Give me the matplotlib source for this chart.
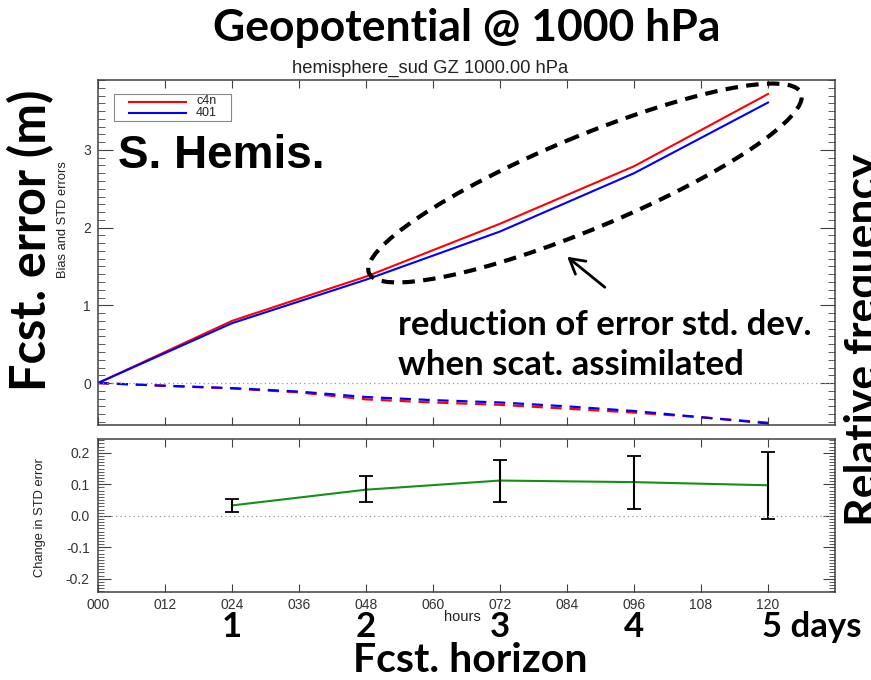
import matplotlib
matplotlib.use("Agg")
import matplotlib.pyplot as plt
from matplotlib.patches import Ellipse, FancyArrowPatch, Rectangle
from matplotlib.lines import Line2D
from matplotlib.transforms import Affine2D
from matplotlib.ticker import MultipleLocator, FixedLocator, FormatStrFormatter

# ---------------- data ----------------
hours_std = [0, 24, 48, 72, 96, 120]
c4n_std = [0, 0.80, 1.37, 2.05, 2.79, 3.72]
e401_std = [0, 0.77, 1.33, 1.95, 2.70, 3.61]

hours_bias = [0, 12, 24, 36, 48, 60, 72, 84, 96, 108, 120]
c4n_bias = [0, -0.035, -0.07, -0.12, -0.21, -0.25, -0.28, -0.33, -0.38, -0.44, -0.51]
e401_bias = [0, -0.035, -0.065, -0.11, -0.18, -0.22, -0.25, -0.30, -0.36, -0.44, -0.52]

hours_diff = [24, 48, 72, 96, 120]
diff_mean = [0.033, 0.083, 0.112, 0.107, 0.097]
diff_low = [0.011, 0.043, 0.044, 0.021, -0.009]
diff_high = [0.053, 0.125, 0.176, 0.191, 0.202]

series_names = ["c4n", "401"]
series_colors = ["#ff0000", "#0000ff"]

xtick_vals = [0, 12, 24, 36, 48, 60, 72, 84, 96, 108, 120]
xtick_labels = ["000", "012", "024", "036", "048", "060", "072", "084", "096", "108", "120"]
day_labels = ["1", "2", "3", "4"]
day_hours = [24, 48, 72, 96]

W, H = 871, 680
fig = plt.figure(figsize=(W / 100, H / 100), dpi=100)
BIG = ["Lato", "DejaVu Sans"]
IDL = ["Liberation Sans", "DejaVu Sans"]
axcol = "#404040"
txtcol = "#222222"


def fx(px):
    return px / W


def fy(py):
    return 1 - py / H


# pixel coordinates measured from the top-left corner of the figure
pix = Affine2D().scale(1 / W, -1 / H).translate(0, 1) + fig.transFigure

ax1 = fig.add_axes([fx(98), fy(425), fx(835) - fx(98), fy(80) - fy(425)])
ax2 = fig.add_axes([fx(98), fy(592), fx(835) - fx(98), fy(439) - fy(592)])

# ---- top panel ----
ax1.plot(hours_std, c4n_std, color=series_colors[0], lw=1.5)
ax1.plot(hours_std, e401_std, color=series_colors[1], lw=1.5)
ax1.plot(hours_bias, c4n_bias, color=series_colors[0], lw=1.6, ls=(0, (5, 3.5)))
ax1.plot(hours_bias, e401_bias, color=series_colors[1], lw=1.6, ls=(0, (5, 3.5)))
ax1.axhline(0, color="#999999", lw=0.9, ls=(0, (1, 2.5)))
ax1.set_xlim(0, 132)
ax1.set_ylim(-0.54, 3.9)
ax1.xaxis.set_major_locator(FixedLocator(xtick_vals))
ax1.set_xticklabels([])
ax1.yaxis.set_major_locator(MultipleLocator(1))
ax1.yaxis.set_minor_locator(MultipleLocator(0.1))
ax1.tick_params(axis="x", which="both", direction="in", top=True, bottom=True, length=6, color=axcol)
ax1.tick_params(axis="y", which="major", direction="in", left=True, right=True, length=11, color=axcol,
                labelsize=10, labelcolor="#333333", pad=5)
ax1.tick_params(axis="y", which="minor", direction="in", left=True, right=True, length=5, color=axcol)
for lab in ax1.get_yticklabels():
    lab.set_family(IDL)

# IDL-style legend box
fig.add_artist(Rectangle((114, 94), 117, 27, transform=pix, fill=True, fc="white", ec="#888888", lw=0.8))
for i, (name, col) in enumerate(zip(series_names, series_colors)):
    yy = 101.5 + 11 * i
    fig.add_artist(Line2D([129, 186], [yy, yy], transform=pix, color=col, lw=1.5))
    fig.text(fx(196), fy(yy), name, family=IDL, fontsize=9, ha="left", va="center", color=txtcol)

# ---- bottom panel ----
yerr = [[m - lo for m, lo in zip(diff_mean, diff_low)], [hi - m for m, hi in zip(diff_mean, diff_high)]]
ax2.plot(hours_diff, diff_mean, color="#149014", lw=1.5)
ax2.errorbar(hours_diff, diff_mean, yerr=yerr, fmt="none", ecolor="black", elinewidth=1.5, capsize=5,
             capthick=1.3)
ax2.axhline(0, color="#999999", lw=0.9, ls=(0, (1, 2.5)))
ax2.set_xlim(0, 132)
ax2.set_ylim(-0.242, 0.244)
ax2.xaxis.set_major_locator(FixedLocator(xtick_vals))
ax2.set_xticklabels(xtick_labels, family=IDL)
ax2.yaxis.set_major_locator(MultipleLocator(0.1))
ax2.yaxis.set_minor_locator(MultipleLocator(0.01))
ax2.yaxis.set_major_formatter(FormatStrFormatter("%.1f"))
ax2.tick_params(axis="x", which="both", direction="in", top=True, bottom=True, length=6, color=axcol,
                labelsize=10, labelcolor="#333333", pad=4)
ax2.tick_params(axis="y", which="major", direction="in", left=True, right=True, length=9, color=axcol,
                labelsize=10, labelcolor="#333333", pad=6)
ax2.tick_params(axis="y", which="minor", direction="in", left=True, right=True, length=4, color=axcol,
                width=0.6)
for lab in ax2.get_yticklabels():
    lab.set_family(IDL)

for ax in (ax1, ax2):
    for sp in ax.spines.values():
        sp.set_color(axcol)
        sp.set_linewidth(1.1)

# ---- small IDL texts ----
fig.text(fx(430), fy(68), "hemisphere_sud GZ 1000.00 hPa", family=IDL, fontsize=13.2, ha="center",
         va="center", color=txtcol)
fig.text(fx(63), fy(220), "Bias and STD errors", family=IDL, fontsize=9.3, rotation=90, ha="center",
         va="center", color=txtcol)
fig.text(fx(40), fy(518), "Change in STD error", family=IDL, fontsize=9.3, rotation=90, ha="center",
         va="center", color=txtcol)
fig.text(fx(462), fy(617), "hours", family=IDL, fontsize=10.5, ha="center", va="center", color=txtcol)

# ---- big annotation texts ----
fig.text(fx(467), fy(28), "Geopotential @ 1000 hPa", family=BIG, fontweight="bold", fontsize=32,
         ha="center", va="center")
fig.text(fx(31), fy(240), "Fcst. error (m)", family=BIG, fontweight="bold", fontsize=35, rotation=90,
         ha="center", va="center")
fig.text(fx(844), fy(340), "Relative frequency", family=BIG, fontweight="bold", fontsize=32, rotation=90,
         ha="left", va="center")
ax1.text(0.027, 0.78, "S. Hemis.", transform=ax1.transAxes, family=IDL, fontweight="bold",
         fontsize=33, ha="left", va="center")
fig.text(fx(398), fy(325), "reduction of error std. dev.", family=BIG, fontweight="bold", fontsize=25,
         ha="left", va="center")
fig.text(fx(398), fy(365), "when scat. assimilated", family=BIG, fontweight="bold", fontsize=25,
         ha="left", va="center")
for h, lab in zip(day_hours, day_labels):
    ax2.text(h, -(627 - 592) / (592 - 439), lab, transform=ax2.get_xaxis_transform(), family=BIG,
             fontweight="bold", fontsize=25, ha="center", va="center")
fig.text(fx(762), fy(627), "5 days", family=BIG, fontweight="bold", fontsize=25, ha="left", va="center")
fig.text(fx(470), fy(660), "Fcst. horizon", family=BIG, fontweight="bold", fontsize=29.5, ha="center",
         va="center")

# ---- ellipse and arrow (annotation) ----
ell = Ellipse((585, 183), 468, 92, angle=-22.6, fill=False, ec="black", lw=3, ls=(0, (3, 2)),
              transform=pix, clip_on=False)
fig.add_artist(ell)
fig.add_artist(FancyArrowPatch((607, 289), (565, 255), transform=pix,
                               arrowstyle="->,head_length=7,head_width=4", lw=2, color="black",
                               mutation_scale=1.5))

fig.savefig("out.png", dpi=100)
